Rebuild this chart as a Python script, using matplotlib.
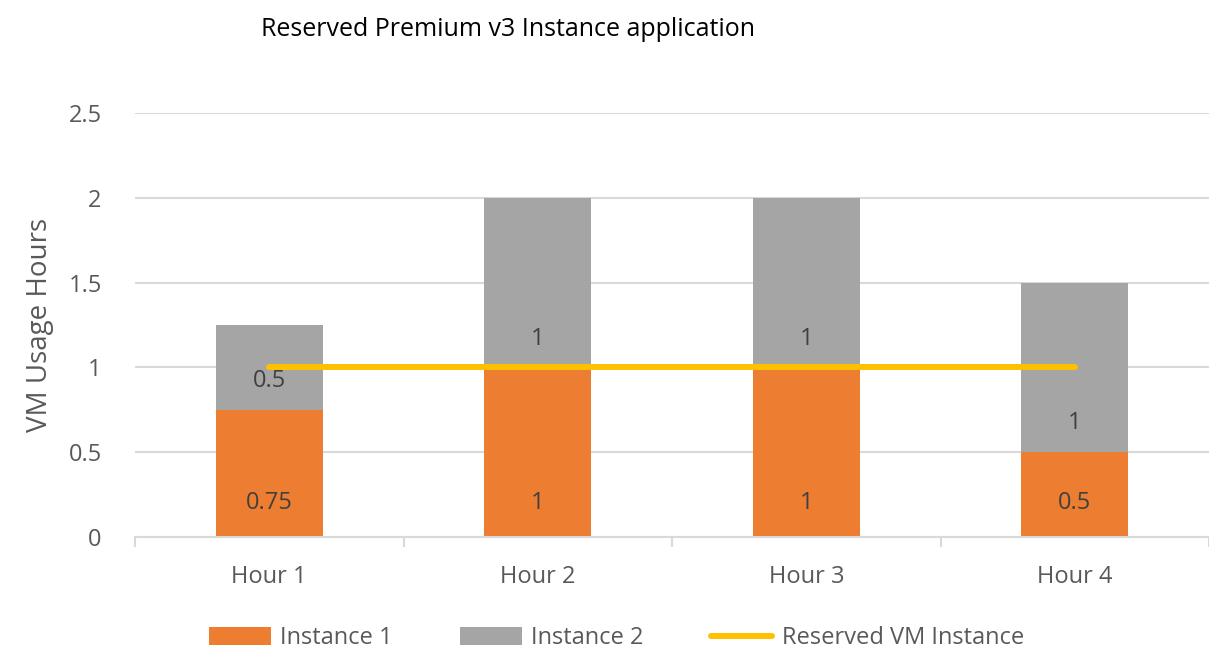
import numpy as np
import matplotlib.pyplot as plt

plt.rcParams['font.family'] = ['Open Sans', 'DejaVu Sans']

# chart data
hours = ['Hour 1', 'Hour 2', 'Hour 3', 'Hour 4']
instance1 = [0.75, 1, 1, 0.5]
instance2 = [0.5, 1, 1, 1]
reserved = [1, 1, 1, 1]
y_ticks = [0, 0.5, 1, 1.5, 2, 2.5]

orange = '#ED7D31'
grey = '#A5A5A5'
gold = '#FFC000'
txt = '#595959'
grid_c = '#D9D9D9'

fig = plt.figure(figsize=(12.09, 6.58), dpi=100)
ax = fig.add_axes([0.1117, 0.1839, 0.8883, 0.6444])

x = np.arange(len(hours))
w = 0.40
b1 = ax.bar(x, instance1, w, color=orange, label='Instance 1', zorder=2)
b2 = ax.bar(x, instance2, w, bottom=instance1, color=grey, label='Instance 2', zorder=2)
ln, = ax.plot(x, reserved, color=gold, lw=4.3, solid_capstyle='round',
              label='Reserved VM Instance', zorder=3)

# data labels, Excel "inside base" style
off = 0.2
for i in range(len(hours)):
    ax.text(x[i], off, f'{instance1[i]:g}', ha='center', va='center',
            fontsize=17, color='#404040', zorder=4)
    ax.text(x[i], instance1[i] + off - 0.03, f'{instance2[i]:g}', ha='center',
            va='center', fontsize=17, color='#404040', zorder=4)

ax.set_xlim(-0.5, len(hours) - 0.5)
ax.set_ylim(0, 2.5)
ax.set_yticks(y_ticks)
ax.set_yticklabels([f'{v:g}' for v in y_ticks])
ax.set_xticks(x)
ax.set_xticklabels(hours)
ax.set_xticks(np.arange(-0.5, len(hours)), minor=True)
ax.tick_params(axis='x', which='major', length=0, pad=20, labelsize=17, labelcolor=txt)
ax.tick_params(axis='x', which='minor', length=7, color=grid_c, width=1.5)
ax.tick_params(axis='y', length=0, pad=24, labelsize=17, labelcolor=txt)

ax.grid(axis='y', color=grid_c, lw=1.5, zorder=0)
ax.set_axisbelow(True)
for s in ['top', 'right', 'left']:
    ax.spines[s].set_visible(False)
ax.spines['bottom'].set_color(grid_c)
ax.spines['bottom'].set_linewidth(1.5)

ax.set_ylabel('VM Usage Hours', fontsize=20, color=txt, labelpad=10)

fig.text(0.42, 0.955, 'Reserved Premium v3 Instance application', ha='center',
         va='center', fontsize=18, color='black')

fig.legend([b1, b2, ln], ['Instance 1', 'Instance 2', 'Reserved VM Instance'],
           loc='center', bbox_to_anchor=(0.51, 0.03), ncol=3, frameon=False,
           fontsize=17, labelcolor=txt, handlelength=2.6, handleheight=0.75,
           columnspacing=2.85, handletextpad=0.4)

fig.savefig('out.png', dpi=100)
